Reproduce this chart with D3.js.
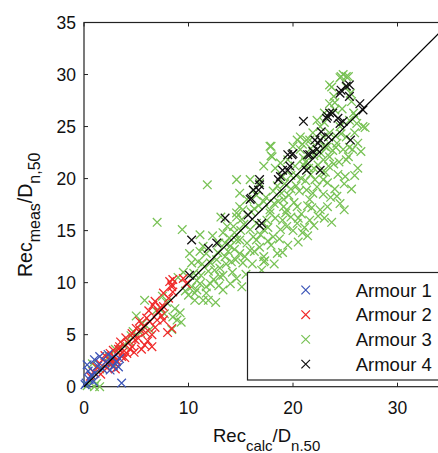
<!DOCTYPE html>
<html>
<head>
<meta charset="utf-8">
<script src="https://cdn.jsdelivr.net/npm/d3@7"></script>
<style>
  body { margin: 0; background: #fff; }
  svg { display: block; font-family: "Liberation Sans", Arial, sans-serif; }
</style>
</head>
<body>
<svg id="chart" width="438" height="453"></svg>
<script>
// measured vs calculated recession, one list of [calc, meas] per armour
var armour1 = [[0.1,0.2],[0.2,0.35],[0.3,2.1],[0.5,0.7],[0.7,1.1],[0.9,0.5],[1.05,1.3],[1.3,2.0],[1.5,2.9],
  [1.8,1.7],[2.1,2.4],[2.5,1.6],[2.8,2.0],[3.1,2.4],[3.3,1.9],[3.6,0.35],[2.3,3.1],[1.0,2.6],[0.4,1.5],
  [2.7,2.8],[3.4,2.7]];

var armour2 = [[0.6,1.0],[0.9,1.4],[1.2,1.9],[1.5,2.25],[1.8,2.6],[2.2,1.8],[2.0,3.0],[2.5,3.2],[2.7,2.4],
  [3.0,2.2],[3.1,2.55],[3.0,1.7],[3.3,3.6],[3.4,3.85],[3.6,2.9],[3.9,2.8],[4.1,3.2],[4.2,4.2],[4.4,3.6],
  [4.6,3.85],[4.6,5.1],[4.9,4.5],[5.2,4.65],[5.4,5.45],[5.7,5.8],[5.8,4.0],[5.5,3.6],[6.0,6.6],[6.1,4.4],
  [6.5,5.0],[6.5,3.85],[6.3,6.25],[6.6,7.85],[6.8,8.2],[7.0,6.4],[7.1,7.2],[7.3,7.6],[7.6,7.7],[7.6,9.0],
  [7.6,6.4],[8.1,8.5],[8.4,9.6],[8.2,10.1],[8.5,10.3],[8.4,9.8],[8.5,9.1],[8.4,5.6],[8.0,5.2],[5.0,5.6],
  [4.0,4.7],[3.5,4.3],[2.8,3.5],[1.6,1.2],[2.4,2.2],[5.9,5.2],[6.8,5.7],[7.4,6.8],[4.8,3.3],[5.3,6.3],
  [3.7,3.3],[2.9,2.9],[6.2,7.3],[9.8,9.9],[9.5,10.4]];

var armour3 = [[0.3,0.1],[1.0,0.0],[1.5,0.0],[1.2,0.3],[0.8,2.2],[1.5,1.7],[2.4,2.9],[3.0,3.6],[2.7,2.2],
  [3.8,4.0],[4.3,4.4],[4.7,5.3],[5.0,6.8],[5.8,8.3],[5.4,5.2],[6.3,5.5],[6.9,7.3],[7.5,8.7],[7.7,7.0],
  [8.5,6.7],[8.9,6.4],[8.4,5.5],[7.9,8.1],[9.0,10.5],[9.5,11.0],[7.0,15.8],[9.4,15.1],[11.1,14.6],
  [11.8,19.4],[10.1,12.8],[10.9,12.0],[11.4,13.5],[12.7,12.2],[9.7,9.2],[10.0,8.8],[10.6,8.3],[11.4,8.3],
  [11.9,8.3],[10.8,9.3],[10.3,9.6],[11.1,9.9],[11.7,9.6],[10.5,10.9],[11.2,10.7],[12.1,11.9],[11.1,13.0],
  [11.7,12.8],[10.3,11.9],[12.1,9.9],[11.7,9.0],[10.6,9.0],[13.0,10.6],[13.0,11.4],[13.3,9.3],[15.1,9.6],
  [13.3,10.7],[17.3,12.1],[17.6,9.5],[12.4,10.3],[12.6,8.1],[9.2,7.1],[8.7,7.5],[9.3,6.2],[4.5,4.9],[5.6,6.1],
  [13.3,14.8],[13.7,15.4],[14.6,16.7],[14.9,17.3],[15.6,18.0],[16.2,18.9],[16.8,19.6],[14.0,13.5],
  [14.6,14.1],[14.9,12.8],[15.6,13.8],[15.9,15.1],[16.5,14.1],[17.2,15.1],[17.2,12.0],[15.2,11.9],
  [14.6,19.9],[15.9,19.9],[14.9,18.6],[15.2,17.0],[14.6,16.3],[14.3,15.4],[16.5,15.7],[16.2,14.4],
  [15.9,13.1],[14.9,14.1],[17.2,12.5],[13.5,12.5],[14.2,11.0],[13.8,13.0],[12.9,13.8],[12.3,14.5],
  [13.1,16.3],[16.0,16.8],[16.7,17.4],[17.4,18.2],[17.8,17.0],[18.3,16.2],[14.5,12.2],[15.5,10.8],
  [16.1,11.8],[16.8,13.4],[17.6,14.0],[13.9,14.3],[15.3,15.6],[16.3,17.1],[14.1,12.0],[15.0,15.0],
  [12.5,11.2],[13.6,11.8],[14.4,13.2],[15.4,12.5],[16.3,13.0],[16.9,14.6],[17.9,13.6],[18.7,14.2],
  [15.1,16.1],[14.4,14.8],[13.5,13.8],[12.8,12.9],[11.9,11.1],[11.3,11.8],[10.8,10.2],[12.9,9.7],
  [14.0,9.9],[14.6,10.4],[16.1,10.6],[17.0,11.2],[18.2,11.8],[17.2,17.8],[16.5,18.4],
  [17.8,23.1],[18.0,22.1],[17.2,21.2],[20.7,24.0],[21.6,23.7],[22.9,24.0],[17.8,16.7],[19.1,18.0],
  [19.4,17.0],[20.4,17.3],[21.3,18.9],[21.6,18.0],[22.3,19.2],[22.9,19.9],[22.6,17.0],[20.4,15.7],
  [18.8,15.1],[18.1,14.4],[19.4,15.4],[21.6,16.0],[17.5,16.0],[18.5,19.3],[19.0,20.2],[19.8,19.0],
  [20.2,21.2],[20.8,20.0],[21.0,22.0],[18.3,21.0],[18.6,17.8],[19.8,16.3],[20.9,14.8],[22.0,15.5],
  [23.0,16.2],[21.8,17.2],[18.5,12.8],[19.5,13.6],[18.9,18.6],[19.6,18.4],[20.1,17.7],[20.6,18.8],
  [21.2,19.8],[21.7,20.4],[22.4,21.3],[19.3,16.7],[18.2,17.6],[17.6,15.3],[20.8,16.6],[21.4,17.4],
  [19.0,16.0],[20.0,15.0],[20.5,16.2],[21.1,15.3],[22.4,16.4],[19.0,12.9],[20.5,13.9],[21.4,14.5],
  [20.3,19.3],[19.1,17.3],[18.1,18.8],[18.8,21.5],[19.8,20.3],[21.0,21.3],[21.9,18.6],[22.8,20.6],
  [24.8,30.0],[25.1,29.8],[23.5,29.0],[24.5,29.7],[25.1,28.8],[25.5,28.2],[23.5,27.2],[23.9,27.9],
  [26.7,25.0],[26.1,25.3],[25.8,26.3],[22.3,25.6],[22.6,25.0],[21.9,24.4],[21.3,23.7],[20.4,23.7],
  [20.0,23.1],[20.7,22.8],[23.5,24.4],[24.2,23.4],[24.8,22.8],[23.5,22.1],[25.1,21.8],[22.9,21.8],
  [22.3,22.8],[22.6,23.7],[24.5,25.0],[25.1,24.0],[26.9,24.9],[24.3,20.4],[23.4,21.2],[17.9,23.1],
  [17.9,22.2],[23.7,28.8],[24.6,29.8],[25.3,29.8],[24.0,19.0],[23.6,18.2],[25.0,20.2],[24.5,17.6],
  [22.9,18.5],[25.7,22.8],[26.2,23.4],[23.0,26.3],[24.0,26.6],[22.0,21.0],[21.2,21.6],[19.5,21.8],
  [23.8,22.7],[24.4,21.6],[25.4,23.0],[23.2,23.0],[22.1,19.9],[23.3,19.6],[24.1,24.1],[25.9,24.4],
  [20.3,20.3],[19.2,19.5],[21.5,21.0],[22.7,22.4],[24.7,26.7],[25.6,27.4],[23.1,20.6],[24.9,19.5],
  [23.7,15.8],[24.9,17.0],[25.6,19.0],[26.2,21.0],[25.9,20.3],[23.3,17.3],[24.2,18.3],[23.9,21.4],
  [25.3,22.1],[26.5,22.6],[22.0,22.2],[23.0,23.1],[24.1,23.0],[24.6,24.3],[25.4,25.6],[26.0,26.0],
  [24.0,27.3],[23.0,25.4],[21.7,22.9],[20.9,23.3]];

var armour4 = [[10.1,10.7],[10.3,14.1],[11.9,13.3],[12.7,13.8],[13.5,16.2],[15.7,16.5],[16.0,18.1],
  [16.8,19.4],[16.8,15.5],[15.9,18.0],[16.2,18.9],[16.8,19.9],[17.0,15.7],[16.7,18.9],[18.6,19.9],
  [18.8,20.2],[19.0,20.8],[19.5,20.8],[19.5,22.3],[19.7,21.2],[20.0,22.4],[19.9,22.3],[21.3,20.8],
  [21.4,22.3],[21.6,22.3],[21.9,22.6],[22.3,22.8],[22.4,23.4],[22.6,23.7],[22.6,20.8],[22.7,24.5],
  [21.0,25.5],[23.3,26.0],[23.5,26.3],[23.2,25.8],[23.8,26.3],[24.3,25.8],[24.5,25.3],[24.8,25.5],
  [23.4,24.0],[25.5,23.7],[22.1,23.7],[24.6,28.5],[24.5,28.2],[25.1,28.9],[25.4,29.0],[25.4,27.9],
  [26.4,27.2],[26.7,26.6]];

var seriesNames = ["Armour 1", "Armour 2", "Armour 3", "Armour 4"];
var seriesColors = ["#3b55b8", "#f02a2a", "#78c255", "#111111"];
var yTicks = [0, 5, 10, 15, 20, 25, 30, 35];
var xTicks = [0, 10, 20, 30];

var svg = d3.select("#chart");

var x = d3.scaleLinear().domain([0, 35]).range([84, 449.75]);
var y = d3.scaleLinear().domain([0, 35]).range([386.7, 22.5]);

var cross = "M-4.3,-4.3L4.3,4.3M-4.3,4.3L4.3,-4.3";

// frame
svg.append("rect")
    .attr("x", x(0)).attr("y", y(35))
    .attr("width", x(35) - x(0)).attr("height", y(0) - y(35))
    .attr("fill", "none").attr("stroke", "#222").attr("stroke-width", 1.2);

// inward ticks, both sides
var ticks = svg.append("g").attr("stroke", "#222").attr("stroke-width", 1);
ticks.selectAll(".yt").data(yTicks).join("path")
    .attr("d", d => `M${x(0)},${y(d)}h4M${x(35)},${y(d)}h-4`);
ticks.selectAll(".xt").data(xTicks).join("path")
    .attr("d", d => `M${x(d)},${y(0)}v-4M${x(d)},${y(35)}v4`);

svg.append("g").selectAll("text").data(yTicks).join("text")
    .attr("x", 76).attr("y", d => y(d)).attr("dy", "0.36em")
    .attr("text-anchor", "end").attr("font-size", 17.5).attr("fill", "#111")
    .text(d => d);

svg.append("g").selectAll("text").data(xTicks).join("text")
    .attr("x", d => x(d)).attr("y", 414)
    .attr("text-anchor", "middle").attr("font-size", 17.5).attr("fill", "#111")
    .text(d => d);

// points
var all = [armour3, armour2, armour1, armour4];
var order = [2, 1, 0, 3];
all.forEach(function(pts, k) {
    svg.append("g")
        .attr("stroke", seriesColors[order[k]])
        .attr("stroke-width", 1.3)
        .attr("fill", "none")
        .selectAll("path")
        .data(pts)
        .join("path")
        .attr("transform", d => `translate(${x(d[0])},${y(d[1])})`)
        .attr("d", cross);
});

// 1:1 line
svg.append("line")
    .attr("x1", x(0)).attr("y1", y(0))
    .attr("x2", x(35)).attr("y2", y(35))
    .attr("stroke", "#000").attr("stroke-width", 1.3);

// legend
var leg = svg.append("g");
leg.append("rect")
    .attr("x", 247.5).attr("y", 272.5).attr("width", 220).attr("height", 107.5)
    .attr("fill", "#fff").attr("stroke", "#222").attr("stroke-width", 1.2);
var rows = leg.selectAll("g").data(seriesNames).join("g")
    .attr("transform", (d, i) => `translate(0,${290 + i * 24.7})`);
rows.append("path")
    .attr("d", cross)
    .attr("transform", "translate(305.7,0)")
    .attr("stroke", (d, i) => seriesColors[i])
    .attr("stroke-width", 1.2).attr("fill", "none");
rows.append("text")
    .attr("x", 355.7).attr("dy", "0.36em")
    .attr("font-size", 18.5).attr("fill", "#111")
    .text(d => d);

// axis titles
var xl = svg.append("text").attr("x", 213).attr("y", 441.5).attr("font-size", 18.5).attr("fill", "#111");
xl.append("tspan").text("Rec");
xl.append("tspan").attr("dy", 9).attr("font-size", 15).text("calc");
xl.append("tspan").attr("dy", -9).text("/D");
xl.append("tspan").attr("dy", 9).attr("font-size", 15).text("n.50");

var yl = svg.append("text")
    .attr("transform", "translate(31.5,277) rotate(-90)")
    .attr("font-size", 19.5).attr("fill", "#111");
yl.append("tspan").text("Rec");
yl.append("tspan").attr("dy", 8).attr("font-size", 16).text("meas");
yl.append("tspan").attr("dy", -8).text("/D");
yl.append("tspan").attr("dy", 8).attr("font-size", 16).text("n,50");
</script>
</body>
</html>
